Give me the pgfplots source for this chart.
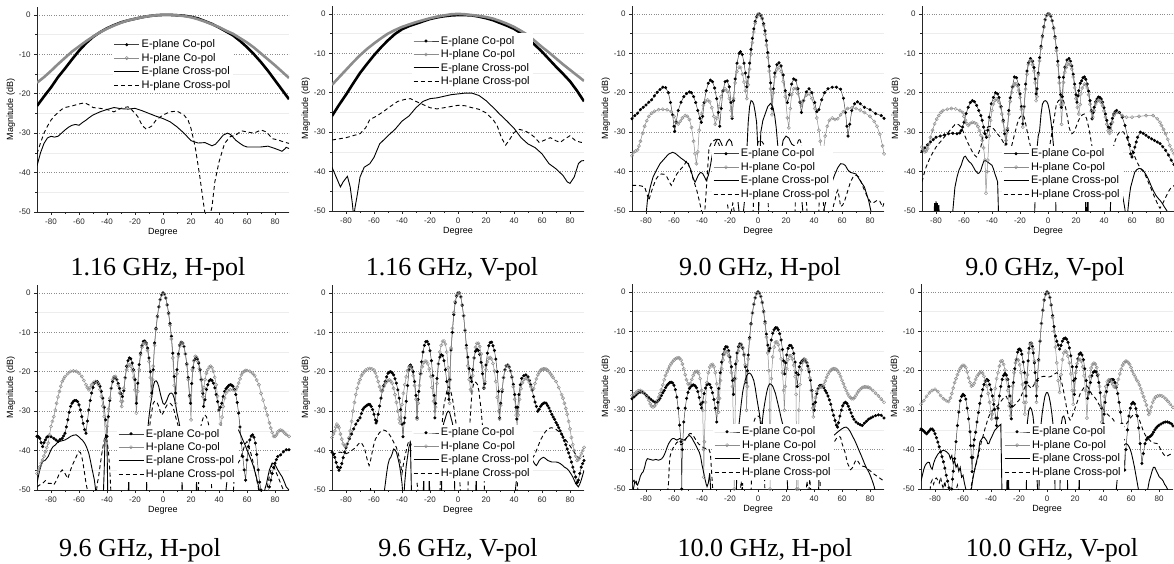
\documentclass[border=0pt]{standalone}
\usepackage{pgfplots}
\pgfplotsset{compat=1.18}
\usepackage{fontspec}
\setmainfont{Liberation Sans}
\newfontfamily\capfont{Liberation Serif}
\pgfplotsset{
  panel/.style={
    scale only axis, width=252pt, height=205pt,
    xmin=-90, xmax=90, ymin=-50, ymax=2,
    axis x line*=bottom, axis y line*=left,
    axis line style={black!85, line width=0.7pt, -},
    tick align=outside,
    xtick={-80,-60,...,80}, ytick={-50,-40,...,0},
    minor x tick num=1, minor y tick num=1,
    major tick length=3pt, minor tick length=1.8pt,
    tick style={black!85, line width=0.6pt},
    ymajorgrids, yminorgrids,
    major grid style={dotted, black!45, line width=0.5pt},
    minor grid style={black!7, line width=0.5pt},
    ticklabel style={font=\fontsize{8}{9}\selectfont, text=black!85},
    /pgf/number format/assume math mode=true,
    xlabel={Degree}, ylabel={Magnitude (dB)},
    label style={font=\fontsize{9}{10}\selectfont},
    xlabel style={yshift=3pt}, ylabel style={yshift=-3pt},
    legend cell align=left,
    legend style={draw=none, fill=white, font=\fontsize{11}{12}\selectfont, inner sep=1pt, row sep=0pt, anchor=north west},
    legend image code/.code={\draw[mark repeat=2,mark phase=2,##1] plot coordinates {(0pt,0pt) (12.5pt,0pt) (25pt,0pt)};},
  },
  ecopol/.style={black!75, line width=0.5pt, mark=*, mark size=1.3pt, mark options={solid, black}},
  hcopol/.style={black!45, line width=0.5pt, mark=o, mark size=1.6pt, mark options={solid, black!45, line width=0.45pt}},
  ecross/.style={black, line width=0.9pt, no markers, solid},
  hcross/.style={black, line width=0.9pt, no markers, dash pattern=on 4pt off 3pt},
  ecothick/.style={black, line width=2.6pt, no markers},
  hcothick/.style={black!45, line width=2.6pt, no markers},
}
\newcommand{\legs}{%
\addlegendimage{ecopol}\addlegendentry{E-plane Co-pol}
\addlegendimage{hcopol}\addlegendentry{H-plane Co-pol}
\addlegendimage{ecross}\addlegendentry{E-plane Cross-pol}
\addlegendimage{hcross}\addlegendentry{H-plane Cross-pol}}
\begin{document}
\begin{tikzpicture}[x=1pt,y=1pt]
\useasboundingbox (0,0) rectangle (1174,563);
% ---------------- P1: 1.16 GHz H-pol
\begin{axis}[panel, at={(37pt,351pt)}, anchor=south west, legend style={at={(0.30,0.855)}}]
\legs
\addplot[ecothick, forget plot] coordinates {(-90,-23.1) (-85,-20.7) (-80,-18.4) (-75,-15.8) (-70,-13.6) (-65,-11.3) (-60,-9.1) (-55,-7.2) (-50,-5.6) (-45,-4.4) (-40,-3.4) (-35,-2.6) (-30,-1.9) (-25,-1.4) (-20,-1) (-15,-0.6) (-10,-0.3) (-5,-0.1) (0,0) (5,0) (10,-0.1) (15,-0.2) (20,-0.5) (25,-0.9) (30,-1.6) (35,-2.3) (40,-3.2) (45,-4.2) (50,-5.2) (55,-6.6) (60,-8.2) (65,-10) (70,-12) (75,-14.2) (80,-16.6) (85,-19) (90,-21.4)};
\addplot[hcothick, forget plot] coordinates {(-90,-17.2) (-85,-15.8) (-80,-14.2) (-75,-12.5) (-70,-10.9) (-65,-9.3) (-60,-8) (-55,-6.7) (-50,-5.5) (-45,-4.4) (-40,-3.5) (-35,-2.7) (-30,-2) (-25,-1.4) (-20,-1) (-15,-0.6) (-10,-0.3) (-5,-0.1) (0,0) (5,0) (10,-0.1) (15,-0.3) (20,-0.6) (25,-1.1) (30,-1.7) (35,-2.4) (40,-3.1) (45,-4) (50,-4.8) (55,-5.9) (60,-7) (65,-8.3) (70,-9.8) (75,-11.3) (80,-12.8) (85,-14.4) (90,-16)};
\addplot[ecross, forget plot] coordinates {(-90,-38.3) (-87.5,-35) (-85,-32.6) (-82.5,-31.2) (-80,-30.8) (-77.5,-31) (-75,-30.8) (-72.5,-30) (-70,-29.2) (-67.5,-28.5) (-65,-28) (-62.5,-27.8) (-60,-28) (-57.5,-27.3) (-55,-26.7) (-52.5,-26) (-50,-25.4) (-45,-24.6) (-40,-24) (-35,-23.5) (-30,-23.8) (-25,-23.9) (-20,-23.7) (-15,-24.3) (-10,-25) (-5,-25.7) (0,-26.3) (5,-27.1) (10,-28.4) (15,-30) (20,-31.9) (25,-32.5) (30,-32.4) (35,-33.2) (37.5,-32.8) (40,-31.8) (43,-30.5) (46,-30) (48,-30.3) (50,-31) (52,-31.8) (55,-32.6) (57.5,-33.2) (60,-33.5) (65,-33.5) (70,-33.5) (75,-33.3) (80,-33.9) (83,-34.3) (85,-34.6) (87,-34) (88,-33.6) (90,-33.9)};
\addplot[hcross, forget plot] coordinates {(-90,-35.2) (-87.5,-32.5) (-85,-30) (-82.5,-28.2) (-80,-26.7) (-77.5,-25.6) (-75,-24.8) (-72.5,-24) (-70,-23.5) (-65,-23.1) (-60,-22.6) (-56,-22.3) (-53,-22.8) (-50,-23.5) (-45,-23.7) (-40,-24) (-35,-24.6) (-30,-23.7) (-25,-23.3) (-22,-24.2) (-18,-25.8) (-15,-28) (-12,-29) (-8,-28.2) (-5,-26.7) (0,-25.4) (5,-24.6) (10,-24.4) (15,-25.4) (18,-26.8) (20,-28.8) (23,-33.5) (26,-40.3) (29,-48) (30,-50.4) (32,-53) (35,-48.7) (37,-42.4) (40,-37.3) (44,-32.6) (48,-30.9) (52,-30.5) (56,-29.4) (60,-29.7) (65,-30) (70,-29.2) (74,-29.7) (78,-31.4) (82,-31.7) (86,-32.2) (90,-32.6)};
\end{axis}
% ---------------- P2: 1.16 GHz V-pol
\begin{axis}[panel, at={(332pt,352pt)}, anchor=south west, legend style={at={(0.317,0.868)}}]
\legs
\addplot[ecothick, forget plot] coordinates {(-90,-25.9) (-85,-23.1) (-80,-20.5) (-75,-17.7) (-70,-15) (-65,-12.7) (-60,-10.5) (-55,-8.5) (-50,-6.7) (-45,-5.1) (-40,-3.9) (-35,-3.1) (-30,-2.5) (-25,-1.9) (-20,-1.3) (-15,-0.9) (-10,-0.6) (-5,-0.4) (0,-0.3) (5,-0.3) (10,-0.4) (15,-0.7) (20,-1.1) (25,-1.6) (30,-2.3) (35,-3) (40,-3.8) (45,-4.9) (50,-6.3) (55,-7.9) (60,-9.6) (65,-11.5) (70,-13.4) (75,-15.2) (80,-17.1) (85,-19.5) (90,-22.2)};
\addplot[hcothick, forget plot] coordinates {(-90,-18) (-85,-16.1) (-80,-14.2) (-75,-12.3) (-70,-10.5) (-65,-8.9) (-60,-7.5) (-55,-6.2) (-50,-5) (-45,-4.1) (-40,-3.3) (-35,-2.7) (-30,-2.1) (-25,-1.6) (-20,-1.1) (-15,-0.7) (-10,-0.4) (-5,-0.1) (0,0) (5,-0.1) (10,-0.3) (15,-0.5) (20,-0.8) (25,-1.2) (30,-1.8) (35,-2.5) (40,-3.3) (45,-4.3) (50,-5.4) (55,-6.9) (60,-8.4) (65,-9.8) (70,-11.3) (75,-12.8) (80,-14.2) (85,-15.6) (90,-17)};
\addplot[ecross, forget plot] coordinates {(-90,-38.9) (-87,-41.4) (-84,-43.9) (-82,-42.6) (-79,-41.2) (-77,-43.9) (-75.5,-48) (-74.5,-51.5) (-73.5,-49) (-72,-46) (-70,-41.4) (-67,-38.9) (-63,-38) (-60,-36.4) (-56,-33) (-50,-30.9) (-45,-29.3) (-40,-27.2) (-35,-25.9) (-30,-23.8) (-25,-22.2) (-20,-21.5) (-15,-21.3) (-10,-20.9) (-5,-20.5) (0,-20.3) (5,-20.1) (10,-20.1) (15,-20.7) (20,-22) (25,-23.7) (30,-25.5) (35,-27.2) (40,-29) (45,-31.4) (50,-33) (55,-33.9) (60,-35.5) (65,-38) (70,-39.3) (75,-41) (78,-42.6) (80,-43) (83,-41.4) (86,-38) (88,-37.3) (90,-37.2)};
\addplot[hcross, forget plot] coordinates {(-90,-32) (-85,-31.7) (-80,-31.4) (-75,-30.9) (-70,-30.4) (-66,-28.9) (-63,-26.8) (-58,-25.9) (-53,-24.7) (-48,-23.4) (-43,-22.2) (-38,-21.7) (-34,-21.5) (-30,-22.2) (-25,-23) (-20,-23.8) (-15,-24.1) (-10,-23.8) (-5,-23.5) (0,-23.2) (5,-23.3) (10,-23.8) (15,-24.2) (20,-25.1) (25,-26.8) (28,-28.4) (31,-31.4) (34,-33.3) (37,-31.8) (40,-30.1) (44,-29.3) (48,-29.7) (52,-30.5) (55,-31.4) (58,-32.6) (62,-32) (66,-31.4) (70,-32.2) (73,-32.6) (76,-31.8) (80,-30.9) (84,-32.2) (88,-32.6) (90,-32.6)};
\end{axis}
% ---------------- P3: 9.0 GHz H-pol
\begin{axis}[panel, at={(632pt,352pt)}, anchor=south west, legend style={at={(0.317,0.318)}}]
\legs
\addplot[ecopol, forget plot] coordinates {(-90,-26.6) (-88,-25.8) (-86,-25.2) (-84,-24.3) (-82,-23.7) (-80,-23.1) (-78,-22.4) (-76,-21.8) (-74,-20.8) (-72,-19.9) (-70,-19.2) (-68,-18.6) (-66,-18.7) (-64,-20) (-62.5,-22.5) (-61,-25.6) (-60,-28.5) (-59.5,-29.8) (-58.5,-27.5) (-57,-24.5) (-55,-22.4) (-53,-21) (-51,-20.2) (-49,-19.8) (-47.5,-20) (-46,-21) (-44.5,-22.5) (-43,-24.5) (-41.5,-26.5) (-40.5,-27.5) (-39.5,-26) (-38.5,-22.5) (-37,-19.5) (-35.5,-17.6) (-34,-16.8) (-32.5,-17.2) (-31,-18.8) (-29.5,-21.5) (-28.3,-25) (-27.3,-28.5) (-26.3,-24) (-25,-19.5) (-23.5,-17.2) (-22,-17) (-20.5,-18.5) (-19.3,-22.5) (-18.5,-26.5) (-17.5,-22) (-16.3,-16.5) (-15,-12.5) (-13.5,-10) (-12.5,-9.6) (-11.2,-10.3) (-10,-12.5) (-9,-15) (-8,-18.5) (-7,-16) (-6,-12.5) (-5,-9) (-4,-6.2) (-3,-3.8) (-2,-1.9) (-1,-0.7) (0,-0.1) (1,0) (2,-0.4) (3,-1.1) (4,-2.5) (5,-4.3) (6,-6.8) (7,-9.8) (8,-13.3) (9,-17.5) (10,-24) (11,-19) (12,-15) (13.5,-12.9) (15,-12.4) (16.5,-13.2) (18,-15.5) (19.5,-19.5) (21,-22.5) (22.5,-20.5) (24,-17.8) (25.5,-16.5) (27,-16.8) (28.5,-19) (30,-22.5) (31,-25) (32.5,-22) (34.5,-19.8) (36.5,-19) (38.5,-20) (40.5,-22.5) (42,-24.8) (43.5,-24.3) (45.5,-21.8) (47.5,-20) (50,-19) (53,-18.6) (56,-18.6) (59,-19.1) (61,-21.4) (62.5,-25) (63.5,-28.5) (64.3,-31) (65.5,-28) (67,-24.5) (69,-22.8) (71,-22.3) (73,-22.8) (76,-23.7) (80,-24.3) (84,-25.3) (88,-25.8) (90,-26.5)};
\addplot[hcopol, forget plot] coordinates {(-90,-36) (-89,-35.2) (-87.5,-34.8) (-86,-34.5) (-85,-33.5) (-84,-32.3) (-82.5,-30.3) (-81,-28.5) (-79.5,-27.1) (-78,-26) (-76,-25.2) (-74,-24.7) (-71,-24.3) (-68,-24.2) (-65,-24.3) (-62,-24.8) (-60,-26) (-58.5,-27.3) (-57,-27.9) (-55.5,-27.2) (-54,-26.4) (-52,-25.8) (-50.5,-26) (-49,-26.8) (-47.5,-28.8) (-46,-32.3) (-45,-35.5) (-44,-38) (-43,-35) (-42,-29.5) (-40.5,-25.3) (-39,-23.2) (-37.5,-22.2) (-36,-21.8) (-34.5,-22.3) (-33,-23.8) (-31.5,-26) (-30.5,-28) (-29.5,-26.5) (-28,-23.5) (-26.5,-21) (-25,-19.6) (-23.5,-19) (-22,-19.6) (-20.5,-21.5) (-19.3,-24.5) (-18.7,-26) (-17.5,-21.5) (-16.3,-17.5) (-15,-14.6) (-13.5,-13.5) (-12.5,-13.6) (-11,-15.3) (-10,-17.3) (-9,-19.5) (-8,-21.5) (-7,-18) (-6,-14) (-5,-10.2) (-4,-7.3) (-3,-4.6) (-2,-2.4) (-1,-0.9) (0,-0.1) (1,0) (2,-0.5) (3,-1.3) (4,-2.9) (5,-5.2) (6,-7.9) (7,-11) (8,-14.5) (9,-19) (10,-25.6) (11,-20) (12,-16) (13.5,-14.2) (15,-13.6) (16.5,-14.6) (18,-17.2) (19.5,-21) (21,-26.4) (22,-28.9) (23,-24) (24,-20.5) (25.5,-19) (27,-18.9) (28.5,-20.2) (30,-22.3) (31,-23.2) (32.5,-22) (34.5,-20.6) (36.5,-20.3) (38.5,-21.5) (40.5,-24) (42,-26.4) (43.5,-29.5) (44.5,-32.3) (45.5,-35.5) (46,-36.8) (47,-34) (48,-31) (49.5,-28.5) (51,-27) (53,-26.4) (55,-26.8) (57,-26.6) (59,-25.6) (61,-24.8) (64,-24) (67,-23.8) (70,-24) (73,-24.4) (76,-25) (80,-26) (83,-27.3) (85,-28.5) (87,-30.5) (89,-33.5) (90,-35.5)};
\addplot[ecross, forget plot] coordinates {(-90,-60) (-81,-55) (-79,-47.3) (-77,-44) (-75,-41.4) (-72,-39.3) (-70,-38) (-67,-36.8) (-64,-35.6) (-61,-35.1) (-59,-35.4) (-57,-36) (-55,-36.6) (-53,-37.1) (-50,-38) (-48,-39.5) (-46.5,-41.5) (-45,-42.7) (-44,-42) (-42.5,-40.8) (-41,-40.2) (-39.5,-40.5) (-38,-41.5) (-37,-42.3) (-35.5,-41) (-34,-38.5) (-33,-36.4) (-32,-34.5) (-30.5,-32.8) (-29,-31.8) (-27.5,-31.9) (-26,-33) (-25,-34) (-23.5,-34) (-22,-32.5) (-20.5,-31.8) (-19,-32.4) (-17.5,-35) (-15,-45) (-12,-56) (-9,-45) (-8,-35) (-7,-27.5) (-6,-23.5) (-5,-22) (-4,-22.2) (-3,-23) (-2,-25) (-1,-27.5) (0,-35) (0.5,-50) (1,-40) (2,-30) (3.5,-27) (5,-25.5) (7,-23.5) (9,-22.7) (10.5,-23.5) (12,-26) (13,-28.9) (14,-33) (15,-36) (16.5,-35) (18,-32) (20,-31) (22,-31.5) (24,-33) (26,-33.5) (28,-36) (30,-42) (32,-50) (35,-58) (44,-58) (47,-49.8) (48.5,-47.5) (50,-45.6) (52.5,-43) (55,-40.6) (57,-39) (59,-38) (61,-38.1) (62.5,-38.5) (64,-39.5) (66,-40.2) (68,-40.4) (70,-40.6) (73,-42.3) (76,-43.9) (79,-47.3) (81,-50.6) (83,-56) (90,-60)};
\addplot[hcross, forget plot] coordinates {(-90,-43.5) (-87,-43.5) (-84,-43.6) (-81,-43.9) (-79.5,-45.5) (-78,-47.3) (-76.5,-45.5) (-75,-43.9) (-73,-42) (-71,-41) (-69,-40.6) (-67,-40.7) (-65,-41.4) (-63.5,-42.5) (-62,-43.5) (-60.5,-42.5) (-58,-40.6) (-55,-39.3) (-53,-38.5) (-51,-37.3) (-50,-37.5) (-49,-38.9) (-47.5,-40.5) (-46,-42.3) (-44,-44.4) (-42,-47.3) (-40,-50.6) (-39,-55) (-37,-45) (-35,-34) (-33,-32.5) (-30,-31.8) (-28,-33) (-26,-35) (-24,-42) (-22,-48) (-20,-52) (-18,-48) (-16,-52) (-4,-55) (-2,-36) (0,-32.5) (2,-32) (4,-33) (6,-36) (8,-55) (26,-55) (28,-33) (29.5,-31.5) (31,-33) (33,-40) (36,-55) (43,-55) (44,-44) (45,-43) (46,-46) (48,-52) (52,-52) (54,-48.5) (55,-47.3) (56,-45.5) (57,-44.7) (58,-46.5) (59,-48.9) (60.5,-48.5) (62,-47.3) (64,-45) (66,-42.7) (68,-41.3) (69,-41) (70.5,-41) (72,-41.4) (73.5,-42.5) (75,-43.9) (77,-45.5) (78,-46.4) (80,-47.5) (81,-48) (83,-47.8) (85,-47.3) (87,-47.5) (89,-49) (90,-48)};
\end{axis}
% ---------------- P4: 9.0 GHz V-pol
\begin{axis}[panel, at={(922pt,352pt)}, anchor=south west, legend style={at={(0.317,0.318)}}]
\legs
\addplot[ecopol, forget plot] coordinates {(-90,-34.8) (-88,-34) (-86,-33.2) (-84,-32.5) (-82,-31.9) (-80,-31.3) (-77,-31) (-74,-30.7) (-71,-30.4) (-68,-30.3) (-65,-30.4) (-63,-30.2) (-62,-29.6) (-61,-28.7) (-60,-27.5) (-58.5,-25.3) (-57,-23.7) (-55.5,-22.5) (-54,-22) (-52.5,-22.3) (-51,-23.2) (-49.5,-24.5) (-48,-25.8) (-47,-27) (-46,-28.7) (-45,-30.4) (-44,-31.3) (-43,-29.5) (-42,-26.2) (-40.5,-22.8) (-39,-21.2) (-37.5,-20) (-36,-20.3) (-35,-21.2) (-33.5,-23.5) (-32,-27) (-31,-30.4) (-30,-33) (-29,-29.5) (-28,-24.5) (-27,-21.3) (-25.5,-18.5) (-24,-16) (-22.5,-16.2) (-21,-18) (-20,-20.3) (-19,-23.5) (-18,-27.9) (-17,-23.5) (-16,-17.8) (-15,-14.5) (-14,-12.4) (-12.5,-11.3) (-11,-12) (-10,-13.6) (-9.2,-16.5) (-8.5,-20.3) (-7.8,-19) (-7,-15) (-6,-11.1) (-5,-8.2) (-4,-5.6) (-3,-3.2) (-2,-1.4) (-1,-0.4) (0,0) (1,-0.1) (2,-0.6) (3,-1.7) (4,-3.5) (5,-5.8) (6,-8.6) (7,-12) (8,-16.1) (9,-20.5) (9.5,-23.7) (10.2,-21) (11,-16.1) (12,-13.5) (13.5,-11.7) (15,-11.3) (16,-12) (17,-13.2) (18,-15.3) (19,-17.8) (20,-20.5) (20.7,-22.4) (21.5,-20.8) (22,-19.5) (23,-17.6) (24,-17) (25,-16.2) (26,-16) (27,-16.6) (28,-17.8) (29,-19.6) (30,-22) (31,-24.5) (31.5,-26.6) (32.3,-25) (33,-23.7) (34,-22.3) (35,-21.6) (36,-21.1) (37,-21.2) (38,-21.6) (39,-22.4) (40,-23.8) (41,-25.4) (42,-27) (43,-28.7) (44,-28.9) (45,-27.9) (46,-26.5) (47,-25.4) (48,-24.8) (49,-24.5) (51,-25) (53,-26.2) (55,-28.3) (57,-31.3) (58,-33.2) (59,-35.5) (60,-36.3) (61,-35.2) (62,-33.8) (63,-32.5) (64,-31.3) (66,-30) (68,-30.3) (70,-30.8) (72,-31.3) (74,-31.7) (76,-32.1) (78,-32.5) (80,-32.9) (82,-33.7) (84,-34.6) (86,-35.8) (88,-37.1) (90,-38.2)};
\addplot[hcopol, forget plot] coordinates {(-90,-33.8) (-89,-34.5) (-88,-35) (-87,-34.8) (-86,-34.2) (-85,-33) (-84,-31.3) (-82.5,-29.5) (-81,-27.9) (-79.5,-26.7) (-78,-25.8) (-76.5,-25) (-75,-24.5) (-72,-24.2) (-69,-24) (-66,-24.1) (-63,-24.5) (-61,-25) (-60,-26) (-59,-27) (-58,-27.8) (-57,-28.3) (-55.5,-27.8) (-54,-27.5) (-52.5,-27.6) (-51,-27.9) (-50,-28.6) (-49,-29.6) (-48,-30.8) (-47,-32.1) (-46,-34) (-45,-37.1) (-44.3,-45.5) (-43.5,-40) (-43,-37.1) (-42,-31) (-41,-27) (-40,-24.5) (-39,-22.9) (-38,-22) (-37,-21.6) (-36,-21.8) (-35,-22.4) (-34,-23.6) (-33,-25.4) (-32,-27.4) (-31,-29.6) (-30,-32.1) (-29,-29) (-28,-25.4) (-27,-22.2) (-26,-19.9) (-25,-18.5) (-24,-17.8) (-23,-17.7) (-22,-18.2) (-21,-19.4) (-20,-21.2) (-19,-24.2) (-18,-28.7) (-17,-23.5) (-16,-19.1) (-15,-15.3) (-14,-12.8) (-13,-11.9) (-12,-11.9) (-11,-12.9) (-10,-14.5) (-9.2,-17.5) (-8.5,-22) (-7.8,-21) (-7,-15.5) (-6,-11.9) (-5,-8.7) (-4,-5.9) (-3,-3.4) (-2,-1.5) (-1,-0.4) (0,0) (1,-0.1) (2,-0.6) (3,-1.8) (4,-3.7) (5,-6.2) (6,-9.3) (7,-13) (8,-17.5) (9,-23) (9.7,-28) (10.4,-23) (11,-17.4) (12,-14.8) (13,-13.6) (14,-12.8) (15,-12.4) (16,-13) (17,-14) (18,-16) (19,-18.7) (20,-21.5) (21,-23.7) (22,-25.4) (23,-23) (23.5,-20.3) (24.5,-18.8) (26,-17.8) (27,-18) (28,-18.8) (29,-20.5) (30,-22.9) (31,-24.8) (32,-26.2) (33,-24.5) (34,-22.9) (35,-22.2) (36,-21.9) (37,-22) (38,-22.5) (39,-23.3) (40,-24.6) (41,-26.2) (42,-28) (43,-29.6) (44,-30.3) (45,-29.6) (46,-27.5) (47,-25.8) (48,-25.2) (50,-25) (53,-25.8) (56,-26.2) (60,-26.2) (65,-26) (70,-25.8) (75,-25.8) (78,-26.6) (80,-27.5) (81,-28.3) (82.5,-29.3) (84,-30.4) (85.5,-31.8) (87,-33.4) (88.5,-34.5) (90,-35.5)};
\addplot[ecross, forget plot] coordinates {(-90,-60) (-82,-55) (-81,-48) (-80.5,-52) (-80,-47.5) (-79.5,-52) (-79,-48) (-78.5,-51) (-78,-48.5) (-77.5,-52) (-70,-56) (-68,-50) (-66.5,-44) (-65,-41.4) (-63.5,-39.5) (-62,-38.4) (-61,-37.2) (-60,-36.3) (-59,-36.1) (-58,-36.7) (-57,-37.2) (-56,-37.6) (-55,-37.9) (-54,-38.4) (-52,-39.7) (-50,-40.5) (-49,-40.3) (-48,-39.7) (-47,-38.5) (-46,-37.5) (-45,-37.2) (-44,-37.3) (-43,-37.6) (-41.5,-38) (-40,-38.4) (-39,-39.3) (-38,-40.5) (-37,-41.5) (-36,-42.6) (-35,-55) (-10,-55) (-8,-34.6) (-7,-31) (-6,-29.6) (-5,-25.5) (-4,-22.9) (-3,-22.2) (-2,-22) (-1,-22.2) (0,-22.9) (1,-24.5) (2,-27) (3,-30) (4,-33.8) (5,-40) (6,-55) (26.5,-55) (27,-46) (27.5,-55) (28.5,-46) (29,-55) (44,-55) (45,-45) (46,-42.6) (47.5,-42.5) (49,-42.9) (50.5,-43.5) (52,-44.7) (53.5,-46.5) (55,-49.7) (56,-55) (57,-50) (58,-46.5) (59,-44) (60.5,-42) (62,-40.1) (63.5,-39.5) (65,-39.2) (66.5,-39.3) (68,-39.7) (69.5,-40.5) (71,-41.4) (72.5,-42.6) (74,-43.9) (75.5,-45) (77,-46) (78.5,-46.7) (80,-47.3) (81.5,-48) (83,-48.9) (84.5,-49.7) (86,-50.6) (88,-55) (90,-58)};
\addplot[hcross, forget plot] coordinates {(-90,-42.6) (-88.5,-40.5) (-87,-38.8) (-85.5,-37.5) (-84,-36.3) (-82,-35) (-80,-33.8) (-78,-32.9) (-76,-32.1) (-74,-31.2) (-72,-30.4) (-70,-29.5) (-68,-28.7) (-66.5,-28.1) (-65,-27.9) (-63.5,-28.2) (-62,-28.7) (-61,-29.5) (-60,-30.4) (-58.5,-31.7) (-57,-32.9) (-55.5,-34) (-54,-35) (-52.5,-35.8) (-51,-36.3) (-49.5,-35.2) (-48,-33.8) (-47,-32) (-46,-30.4) (-44.5,-29.2) (-43,-28.7) (-41.5,-28.5) (-40,-28.7) (-38.5,-29.3) (-37,-30) (-35.5,-30.7) (-34,-31.3) (-32,-32.5) (-30,-34) (-28,-35) (-26,-33.5) (-25,-32.1) (-23.5,-30) (-22,-27.9) (-20.5,-26.4) (-19,-25.8) (-18,-25.6) (-17,-26.2) (-16,-27.8) (-15,-29.6) (-14,-31.3) (-13,-32.9) (-11,-36) (-8,-42) (-5,-45) (-2,-40) (1,-34) (3,-29.6) (4.5,-26.2) (6,-22.9) (7.5,-22) (9,-21.7) (10,-21.7) (11,-22) (12,-23) (13,-24.5) (14,-26.5) (15,-28.7) (16,-29.8) (17,-30.4) (18.5,-30) (20,-28.7) (21.5,-27.3) (23,-26.2) (24.5,-25.6) (26,-25.4) (27.5,-26.5) (29,-28.7) (30,-30.5) (31,-32.9) (33,-36) (36,-38) (40,-39) (43,-38) (45,-36.3) (46.5,-34) (48,-32.1) (49.5,-30.8) (51,-30) (52.5,-29.8) (54,-30) (55.5,-31) (57,-32.1) (58.5,-33.3) (60,-34.6) (61.5,-35.8) (63,-37.1) (64.5,-38.2) (66,-39.2) (67.5,-39.8) (69,-40.5) (70.5,-41.7) (72,-43) (73.5,-44.2) (75,-45.5) (76.5,-46.8) (78,-48) (79,-48.8) (80,-49.3) (81.5,-48.4) (83,-47.3) (84.5,-46.2) (86,-45.1) (87.5,-44.3) (89,-43.9) (90,-43.5)};
\end{axis}
% ---------------- P5: 9.6 GHz H-pol
\begin{axis}[panel, at={(37pt,73pt)}, anchor=south west, legend style={at={(0.317,0.313)}}]
\legs
\addplot[ecopol, forget plot] coordinates {(-90,-36.4) (-89,-36.5) (-88,-36.9) (-87,-38) (-86,-39) (-85,-38) (-84,-37.3) (-83,-36.6) (-82,-36.4) (-80,-36.5) (-78,-36.9) (-76.5,-37.3) (-75,-37.7) (-73.5,-37.2) (-72,-36.9) (-71,-36.3) (-70,-35.6) (-69,-34) (-68,-32.2) (-67,-30.3) (-66,-28.8) (-65,-28) (-64,-27.5) (-63,-27.3) (-62,-27.3) (-61,-27.6) (-60,-28.4) (-59,-29.7) (-58,-31.4) (-57,-33.1) (-56,-34.7) (-55,-35.6) (-54,-32.5) (-53,-29.7) (-52,-27.3) (-51,-25.4) (-50,-24) (-49,-22.9) (-48,-22.5) (-47,-22.5) (-46,-23) (-45,-23.7) (-44,-25) (-43,-26.7) (-42,-29) (-41,-32.2) (-40,-36.4) (-39,-31.4) (-38,-27.3) (-37,-24.2) (-36,-22.5) (-35,-21.6) (-34,-21.6) (-33,-22) (-32,-23) (-31,-24.2) (-30,-25.5) (-29,-26.3) (-28,-24.8) (-27,-21.5) (-26,-18.6) (-25,-17.2) (-24,-16.5) (-23,-16.7) (-22,-17.8) (-21,-19.5) (-20,-22) (-19,-28) (-18,-22.9) (-17,-18.2) (-16,-15.3) (-15,-13.4) (-14,-12.3) (-13,-12.2) (-12,-12.7) (-11,-14) (-10,-16.5) (-9,-20) (-8,-25.4) (-7,-19.5) (-6,-12.7) (-5,-9) (-4,-5.9) (-3,-3.5) (-2,-1.7) (-1,-0.5) (0,0) (1,-0.3) (2,-1.3) (3,-3) (4,-5.1) (5,-7.8) (6,-11) (7,-15.3) (8,-21.2) (9,-25.4) (10,-19.5) (11,-15.5) (12,-13.2) (13,-12.5) (14,-12.7) (15,-13.6) (16,-15.5) (17,-18) (18,-21.5) (19,-26) (19.7,-28) (20.5,-23) (21.5,-19) (22.5,-17) (23.5,-16.5) (24.5,-16.8) (25.5,-17.8) (26.5,-19.5) (27.5,-22) (28.5,-25.5) (29,-28.8) (30,-27.1) (31,-24.5) (32,-23.3) (33,-22.3) (34,-22) (35,-22.2) (36,-22.9) (37,-24.1) (38,-25.8) (39,-27.6) (40,-29.7) (41,-29) (42,-28) (43,-26.3) (44,-25) (45,-24.3) (46,-23.9) (47,-23.5) (48,-23.3) (49,-23.4) (50,-23.7) (51,-24.5) (52,-25.8) (53,-27.8) (54,-30.5) (55,-34) (56,-38.1) (57,-41.5) (58,-44.9) (59,-47.5) (60,-42.4) (61,-39) (62,-37.3) (63,-36.3) (64,-36) (65,-36.6) (66,-38.1) (67,-41) (68,-44.9) (69,-48) (70,-50) (71,-52) (72,-53) (74,-52) (76,-49.2) (77,-47.5) (78,-45.8) (79,-44.3) (80,-43.2) (81,-42.3) (82,-41.5) (84,-41.1) (86,-40.3) (88,-39.8) (90,-39.8)};
\addplot[hcopol, forget plot] coordinates {(-90,-45.8) (-89,-45) (-88,-44.1) (-87,-43.2) (-86,-42.4) (-85,-41.4) (-84,-40.3) (-83,-39.2) (-82,-38.1) (-81,-36) (-80,-33.9) (-79,-32.6) (-78,-31.4) (-77,-29.7) (-76,-28) (-75,-26.4) (-74,-25) (-73,-23.7) (-72,-22.5) (-71,-21.8) (-70,-21.2) (-68,-20.5) (-66,-19.9) (-64,-19.8) (-62,-19.9) (-60,-20.4) (-58,-21.2) (-56.5,-22.2) (-55,-23.3) (-54,-24) (-53,-24.6) (-52,-24) (-51,-23.3) (-49.5,-22.7) (-48,-22.5) (-47,-22.8) (-46,-23.3) (-45,-24.5) (-44,-26.3) (-43,-28.7) (-42,-31.4) (-41,-37.3) (-40,-33.9) (-39,-29.5) (-38,-26.7) (-37,-24.2) (-36,-22) (-35,-21.3) (-34,-21.2) (-33,-22) (-32,-23.5) (-31,-25.4) (-30,-27.5) (-29.5,-28.8) (-29,-27.5) (-28,-24.2) (-27,-21.5) (-26,-19.5) (-25,-18.6) (-24,-18.2) (-23,-18.6) (-22,-19.5) (-21,-21.5) (-20,-24.6) (-19,-30.5) (-18,-25) (-17,-19.5) (-16,-15.7) (-15,-13.8) (-14,-12.9) (-13,-12.7) (-12,-13.1) (-11,-14.6) (-10,-17.4) (-9,-21.5) (-8.5,-26.3) (-7.5,-22) (-7,-18.6) (-6,-13.3) (-5,-9.3) (-4,-6.1) (-3,-3.6) (-2,-1.7) (-1,-0.5) (0,0) (1,-0.3) (2,-1.3) (3,-3.1) (4,-5.3) (5,-8.2) (6,-11.7) (7,-16.5) (8,-23.5) (9,-28) (10,-20.5) (11,-16.1) (12,-13.5) (13,-12.7) (14,-12.8) (15,-13.6) (16,-15.5) (17,-18.2) (18,-22) (19,-26.3) (20,-32.2) (21,-19.5) (22,-17.2) (23,-16.1) (24,-16.3) (25,-17.4) (26,-19.2) (27,-22) (28,-25) (28.5,-26.3) (29.2,-24) (30,-22) (31,-20.4) (32,-19.5) (33,-18.8) (34,-18.6) (35,-19) (36,-19.9) (37,-21.4) (38,-23.3) (39,-26.2) (40,-29.7) (41,-33.2) (41.5,-33.9) (42.2,-31.5) (43,-28.8) (44,-26.7) (45,-25.4) (46.5,-24.8) (48,-24.6) (50,-24.6) (52,-24.6) (53,-23.9) (54,-22.9) (55,-21.8) (56,-20.8) (57,-20.2) (58,-19.9) (59,-19.7) (60,-19.7) (62,-19.9) (64,-20.4) (65.5,-21) (67,-22.1) (68.5,-23.3) (70,-25.5) (71.5,-27.2) (73,-29.2) (74.5,-31) (76,-33) (77,-34.3) (78,-35.4) (79,-36.4) (80,-36.4) (81,-36) (82,-35.3) (83,-34.9) (84,-34.8) (85,-34.9) (86,-35.2) (87,-35.6) (88,-35.9) (90,-36.4)};
\addplot[ecross, forget plot] coordinates {(-90,-48.3) (-89,-46.5) (-88,-44.9) (-87,-43.7) (-86,-42.8) (-84,-42.4) (-82,-41.5) (-80,-39.8) (-78.5,-39) (-77,-38.6) (-75.5,-38) (-74,-37.7) (-72,-37.5) (-70,-37.3) (-68,-36.9) (-66,-36.4) (-64,-36.1) (-62,-36) (-60.5,-36.4) (-59,-36.9) (-57.5,-37.4) (-56,-38.1) (-54.5,-39.2) (-53,-40.7) (-52,-42.3) (-51,-44.1) (-50,-45.8) (-49,-47.5) (-48,-50.4) (-47,-55) (-43,-55) (-42,-45) (-41.5,-38) (-41,-36) (-40.5,-36) (-40,-38) (-39.5,-50) (-39,-55) (-25,-55) (-24.5,-46.6) (-24,-55) (-12,-55) (-11,-35) (-10,-31.4) (-9,-28.5) (-8,-26.3) (-7,-23.8) (-6,-22.5) (-5,-22.3) (-4,-22.7) (-3,-23.8) (-2,-25.4) (-1,-26.8) (0,-28) (1,-28.3) (2,-27.8) (3,-27) (4,-26) (5,-25.5) (6,-25.4) (7,-25.7) (8,-26.7) (9,-28.3) (10,-30.5) (11,-32) (12,-33.9) (13,-38) (14,-55) (23.5,-55) (24,-46.6) (24.5,-55) (44,-55) (45,-50) (46,-46.6) (47,-44) (48,-41.5) (49,-39.7) (50,-38.1) (51,-36.6) (52,-35.4) (53,-34.7) (54,-34.8) (55,-35.6) (56,-36.4) (57,-37.3) (58.5,-38.5) (60,-39.8) (61.5,-41.1) (63,-42.4) (64.5,-43.9) (66,-45.8) (67,-47.2) (68,-48.7) (69,-50.3) (70,-51.7) (72,-51) (73,-49.5) (74,-48.3) (75,-46.5) (76,-44.9) (77,-44) (78,-43.2) (79,-43.3) (80,-43.6) (81,-44.2) (82,-44.9) (83.5,-45.8) (85,-46.6) (86.5,-47.8) (88,-49.2) (89,-49.6) (90,-50)};
\addplot[hcross, forget plot] coordinates {(-90,-49.2) (-88,-48.7) (-86,-48.3) (-84,-47.6) (-82,-48.3) (-80,-48.3) (-78,-48.7) (-76,-47.5) (-74,-45.8) (-72,-44.9) (-70,-45.8) (-68,-47.1) (-66,-44.9) (-64.5,-43.5) (-63,-42.4) (-61.5,-41.2) (-60,-40.3) (-59,-40.5) (-58,-41.5) (-57,-43.5) (-56,-45.8) (-55,-48.3) (-54,-50) (-53,-52) (-48,-52) (-47,-48.5) (-46,-46.6) (-45,-44) (-44,-41.5) (-43,-39.2) (-42,-37.3) (-41,-36.4) (-40,-37.5) (-39,-40) (-38,-45) (-37,-52) (-12,-52) (-10,-36) (-9,-32.2) (-8,-30) (-7,-28) (-6,-27.5) (-5,-27.5) (-4,-28) (-3,-28.8) (-2,-30) (-1,-31) (0,-30.5) (1,-29.7) (2,-29) (3,-28.4) (4,-28.1) (5,-28) (6,-28.3) (7,-28.8) (8,-30) (9,-31.4) (10,-32.7) (11,-33.9) (12,-36) (14,-52) (25,-52) (27,-33.9) (28,-32.5) (29,-31.4) (30,-31) (31,-31.4) (32,-32.5) (33,-34) (35,-52) (50,-52) (51,-46) (52,-44.1) (53.5,-43.2) (55,-42.4) (56.5,-40.8) (58,-39) (59,-38.2) (60,-37.7) (61,-38.5) (62,-39.8) (63,-41) (64,-42.4) (65,-44) (66,-45.8) (67,-47.5) (68,-49.2) (69,-52) (73,-52) (75,-48.3) (76,-46.5) (77,-45) (78,-43.2) (79,-43.5) (80,-44.9) (82,-46.5) (84,-48.3) (86,-50) (88,-52) (90,-52)};
\end{axis}
% ---------------- P6: 9.6 GHz V-pol
\begin{axis}[panel, at={(332pt,73pt)}, anchor=south west, legend style={at={(0.317,0.318)}}]
\legs
\addplot[ecopol, forget plot] coordinates {(-90,-40.4) (-89,-41) (-88,-41.7) (-87,-43) (-86,-44.2) (-85,-45) (-84,-44.3) (-83,-43.3) (-82,-41.8) (-81,-40.4) (-80,-39.3) (-79,-38.3) (-77.5,-37) (-76,-35.8) (-74.5,-34.5) (-73,-33.3) (-71.5,-32.4) (-70,-31.7) (-69,-30.6) (-68,-29.6) (-67,-29.1) (-66,-28.8) (-65,-28.5) (-64,-28.3) (-63,-28.3) (-62,-28.8) (-61,-29.6) (-60,-30.8) (-59,-32.2) (-58.5,-33) (-58,-32.5) (-57,-30.8) (-56,-28.7) (-55,-26.7) (-54,-24.8) (-53,-23.5) (-52,-22.5) (-51,-21.3) (-50,-20.4) (-49,-20.1) (-48,-20) (-47,-20.3) (-46,-20.8) (-45,-21.8) (-44,-22.9) (-43,-24.6) (-42,-26.7) (-41,-29.6) (-40,-33.3) (-39.3,-36.5) (-38.5,-33) (-38,-31.7) (-37,-27.5) (-36,-23.5) (-35,-19.5) (-34.5,-18.5) (-34,-18.3) (-33,-18.8) (-32,-20) (-31,-22.5) (-30,-26) (-29.3,-31.7) (-28.5,-27) (-28,-25) (-27,-20.5) (-26,-17.5) (-25,-15) (-24,-13.3) (-23,-12.4) (-22,-12.3) (-21,-13) (-20,-14.7) (-19,-17.2) (-18,-21) (-17,-26) (-16.5,-31.7) (-16,-28) (-15,-21.7) (-14,-18) (-13,-16.3) (-12,-15.7) (-11,-15.9) (-10,-17.2) (-9,-19.5) (-8,-22.5) (-7,-25.5) (-6.5,-27) (-6,-22) (-5,-14.5) (-4,-10) (-3,-5.5) (-2,-2.5) (-1,-0.8) (0,-0.1) (1,0) (2,-1) (3,-3.2) (4,-5.8) (5,-9.5) (6,-13.3) (7,-16.3) (8,-19.2) (9,-21.5) (9.7,-22.5) (10.5,-19.5) (11.5,-16.5) (12.5,-14.8) (13.5,-14.3) (14.5,-14.6) (15.5,-15.6) (16.5,-17.6) (17.5,-20.5) (18.5,-24.2) (19.2,-23) (20,-18.3) (21,-15.3) (22,-13.4) (23,-12.6) (24,-12.5) (25,-13.4) (26,-14.6) (27,-16.8) (28,-20) (29,-25) (29.7,-31.7) (30.5,-28) (31.5,-25) (32.5,-21.5) (33.5,-19.5) (34.5,-18.5) (35.5,-18.3) (36.5,-18.8) (37.5,-19.8) (38.5,-21.3) (39.5,-23.2) (40.5,-25.8) (41.5,-29) (42,-32) (42.7,-29) (43.5,-25.8) (44.5,-23.3) (45.5,-21.7) (47,-21) (48.5,-20.8) (50,-21.3) (51,-22.2) (52,-23.3) (53,-24.7) (54,-26.3) (55,-27.7) (56,-28.8) (57,-30) (58,-29.5) (59,-28.8) (60,-28.3) (61,-28) (62,-27.9) (63,-28) (64,-28.6) (65,-29.2) (66,-30) (67,-30.8) (68,-31.5) (69,-32.1) (70,-32.9) (71,-33.5) (72,-34.2) (73,-35) (74,-35.8) (75,-36.6) (76,-37.5) (77,-38.5) (78,-39.6) (79,-40.6) (80,-41.7) (81,-42.9) (82,-44.2) (83,-45.4) (84,-46.7) (84.7,-48.3) (85.5,-48) (86,-47.5) (87,-45.8) (88,-44.2) (89,-43.3) (90,-42.5)};
\addplot[hcopol, forget plot] coordinates {(-90,-36.7) (-89,-35.8) (-88,-35) (-87.3,-34) (-86.5,-33.3) (-85.5,-33.8) (-85,-34.2) (-84,-35.8) (-83,-37.1) (-82,-38.3) (-81,-38.8) (-80,-38.8) (-79,-38.3) (-78,-36.8) (-77,-35) (-76,-32.6) (-75,-30) (-74,-27.8) (-73,-25.8) (-72,-24.2) (-71,-22.9) (-70,-22) (-69,-21) (-68,-20.5) (-67,-20) (-66,-19.6) (-64.5,-19.3) (-63,-19.2) (-61.5,-19.3) (-60,-19.6) (-59,-20.3) (-58,-21.3) (-57,-22.5) (-56,-23.8) (-55,-24.7) (-54.5,-25) (-54,-24.7) (-53,-23.8) (-52,-23) (-51,-22.5) (-50,-22.2) (-49,-22.1) (-48,-22.4) (-47,-22.9) (-46,-24.2) (-45,-25.8) (-44,-27.8) (-43,-30) (-42,-32) (-41.5,-33) (-41,-31.5) (-40,-28.3) (-39,-25.5) (-38,-23.3) (-37,-21.3) (-36,-19.7) (-35,-18.8) (-34,-18.7) (-33,-19.4) (-32,-21) (-31,-23.5) (-30,-27) (-29.2,-32) (-28.5,-28) (-27.5,-23.5) (-26.5,-20.5) (-25.5,-18.7) (-24.5,-17.7) (-23.5,-17.3) (-22.5,-17.4) (-21.5,-18) (-20.5,-19.3) (-19.5,-21.2) (-18.5,-24) (-17.5,-27.5) (-16.5,-30) (-16,-29) (-15,-23) (-14,-18) (-13,-15) (-12,-13.3) (-11,-12.3) (-10,-12.2) (-9,-13) (-8,-15) (-7,-19) (-6,-28) (-5.5,-22) (-5,-14) (-4,-9) (-3,-5) (-2,-2.2) (-1,-0.6) (0,0) (1,-0.1) (2,-1) (3,-3) (4,-5.8) (5,-9.5) (6,-14) (7,-18.5) (8,-22) (9,-24.5) (9.7,-25) (10.5,-21) (11.5,-16.5) (12.5,-13.8) (13.5,-12.8) (14.5,-12.8) (15.5,-13.6) (16.5,-15.5) (17.5,-18.8) (18.5,-24) (19.2,-22.5) (20,-19.5) (21,-17.5) (22,-16.6) (23,-16.4) (24,-16.8) (25,-17.9) (26,-19.8) (27,-22.5) (28,-26.5) (29,-30) (29.7,-32) (30.5,-28.5) (31.5,-24.5) (32.5,-21.5) (33.5,-19.5) (34.5,-18.5) (35.5,-18.3) (36.5,-18.7) (37.5,-19.8) (38.5,-21.5) (39.5,-23.8) (40.5,-27) (41.5,-31) (42.2,-34) (43,-31) (44,-27) (45,-24.3) (46,-22.8) (47,-22) (48.5,-21.7) (50,-22) (51,-22.7) (52,-23.8) (53,-24.6) (54,-24.3) (55,-23) (56,-21.8) (57,-20.8) (58,-20.1) (59,-19.6) (60,-19.4) (61,-19.3) (62,-19.3) (63,-19.4) (64,-19.6) (65,-20) (66,-20.5) (67,-21) (68,-21.5) (70,-22.5) (72,-24) (74,-25.8) (75,-26.7) (76,-28) (77,-29.3) (78,-30.8) (79,-32.6) (80,-34.5) (81,-36.7) (82,-38.5) (83,-40) (84,-41.4) (85,-42.5) (86,-42.3) (87,-41.7) (88,-40.8) (89,-40) (90,-39.2)};
\addplot[ecross, forget plot] coordinates {(-90,-58) (-63,-55) (-62.5,-49.5) (-62,-55) (-53,-55) (-52.5,-50) (-51,-45.8) (-50,-43.5) (-49,-42.2) (-48,-41.7) (-47,-40.8) (-46,-39.6) (-45,-39.8) (-44,-40.4) (-43,-41.8) (-42,-43.3) (-41,-45.5) (-40,-48.3) (-39,-53) (-38,-48) (-37,-44) (-36,-41.5) (-35,-39) (-34,-38) (-33,-55) (-25,-55) (-24.5,-46) (-24,-55) (-21,-55) (-20.5,-46) (-20,-55) (-12,-55) (-11,-34.2) (-10,-32.8) (-9,-31.7) (-8,-30.5) (-7,-30) (-6,-30.3) (-5,-31.7) (-4,-33) (-3.5,-34.2) (-3,-40) (-2,-55) (12.5,-55) (13,-45) (13.5,-55) (40,-55) (41,-50) (42,-46.5) (43,-44.2) (44,-42.9) (45,-41.7) (46.5,-41) (48,-40.4) (49,-40.5) (50,-40.8) (51,-41.2) (52,-41.7) (53,-42.3) (54,-42.9) (55,-43.5) (56,-43.8) (57,-43.2) (58,-42.5) (59.5,-42) (61,-41.7) (62.5,-42) (64,-42.5) (65.5,-42.7) (67,-42.9) (68.5,-42.9) (70,-42.9) (71.5,-43) (73,-43.3) (74.5,-43.7) (76,-44.2) (77.5,-44.5) (79,-45) (80.5,-45.8) (82,-46.7) (83,-47.5) (84,-48.3) (85,-48.8) (86,-49.2) (87,-48.5) (88,-47.5) (89,-46.3) (90,-45)};
\addplot[hcross, forget plot] coordinates {(-90,-40.5) (-88,-40.8) (-86,-40.5) (-84,-40.4) (-82,-40.6) (-80,-40.8) (-78,-40.5) (-76,-40) (-74.5,-39.6) (-73,-39.2) (-71.5,-38.5) (-70,-37.9) (-68.5,-38.3) (-67,-39.2) (-66,-40.5) (-65,-42.1) (-64,-43.3) (-63.5,-43.8) (-63,-43.3) (-62,-41.7) (-61,-39.8) (-60,-38.3) (-59,-37.1) (-57.5,-36.2) (-56,-35.4) (-54.5,-35) (-53,-34.8) (-51.5,-35) (-50,-35.4) (-48.5,-36.2) (-47,-37.1) (-45.5,-38.2) (-44,-39.2) (-43,-40.4) (-42,-41.7) (-41,-43.5) (-40,-45.8) (-39,-43.5) (-38,-41.7) (-37,-40) (-36,-38.5) (-35,-37.5) (-34,-38) (-32,-40) (-28,-52) (-13,-52) (-11.5,-34) (-11,-31.7) (-10,-28.5) (-9,-26.7) (-8,-25) (-7,-24) (-6.5,-23.8) (-6,-24) (-5,-25.2) (-4,-26.7) (-3,-29) (-2,-31.7) (-1,-34) (0,-40) (2,-52) (7,-52) (8,-36) (9,-30) (10,-25) (11,-23.3) (12,-22.5) (13,-22.8) (14,-23.3) (15,-25) (15.5,-26.7) (16.5,-29.5) (17,-31.7) (18,-36) (19,-52) (42,-52) (43,-44) (44,-41.7) (45,-40.8) (46,-40.2) (47,-40) (48.5,-40.6) (50,-41.3) (51.5,-41.8) (53,-42) (54.5,-41.2) (56,-40) (57.5,-38.6) (59,-37.3) (60.5,-36.3) (62,-35.4) (63.5,-34.8) (65,-34.4) (66.5,-34.2) (68,-34.3) (69.5,-34.5) (71,-34.9) (72.5,-35.3) (74,-35.9) (75.5,-36.5) (77,-37.3) (78.5,-38) (80,-38.8) (81.5,-39.6) (83,-40.4) (84.5,-41.2) (86,-41.8) (87.5,-42.1) (89,-41.7) (90,-41.3)};
\end{axis}
% ---------------- P7: 10.0 GHz H-pol
\begin{axis}[panel, at={(632pt,74pt)}, anchor=south west, legend style={at={(0.321,0.318)}}]
\legs
\addplot[ecopol, forget plot] coordinates {(-90,-27.1) (-88.5,-26.6) (-87,-26.1) (-85.5,-25.6) (-84,-25.4) (-82.5,-25.5) (-81,-25.8) (-79.5,-26.3) (-78,-26.8) (-76.5,-27.3) (-75,-27.7) (-73.5,-28) (-72,-27.9) (-71,-27.5) (-70,-27) (-69,-26.3) (-68,-25.6) (-67,-25) (-66,-24.3) (-65,-23.7) (-64,-23.3) (-63,-23) (-62,-22.9) (-61,-23.1) (-60,-23.7) (-59,-24.8) (-58,-26.7) (-57,-29.5) (-56,-33.8) (-55,-38) (-54.5,-50) (-54,-40) (-53,-33) (-52,-29.5) (-51,-27) (-50,-25.5) (-49,-24.5) (-48,-24) (-47,-23.7) (-46,-23.6) (-45,-23.8) (-44,-24.3) (-43,-25.3) (-42,-26.8) (-41,-28.5) (-40.3,-29.5) (-39.5,-28) (-38.5,-25.8) (-37.5,-24.4) (-36.5,-23.6) (-35.5,-23.3) (-34.5,-23.5) (-33.5,-24.3) (-32.5,-25.6) (-31.5,-27.3) (-30.5,-29.5) (-29.5,-33) (-28.7,-28) (-28,-24.5) (-27,-20.5) (-26,-17.8) (-25,-15.8) (-24,-14.5) (-23,-13.9) (-22,-14) (-21,-14.9) (-20,-16.5) (-19,-19) (-18.2,-22.5) (-17.5,-26) (-16.8,-22) (-16,-18.3) (-15,-15.5) (-14,-13.9) (-13,-13.2) (-12,-13.3) (-11,-14.3) (-10,-16) (-9,-19) (-8.3,-23) (-7.6,-20) (-7,-16) (-6,-11.6) (-5,-8) (-4,-5.3) (-3,-3.1) (-2,-1.5) (-1,-0.4) (0,0) (1,-0.3) (2,-1.1) (3,-2.6) (4,-4.9) (5,-7.6) (6,-10.7) (7,-13.5) (7.8,-15) (8.5,-14.3) (9.5,-12.2) (10.5,-10.5) (11.5,-9.6) (12.5,-9.1) (13.5,-9.1) (14.5,-9.6) (15.5,-10.6) (16.5,-12.2) (17.5,-14.6) (18.3,-17.5) (19,-20.8) (19.8,-18) (20.5,-16) (21.5,-14.3) (22.5,-13.6) (23.5,-13.6) (24.5,-14.2) (25.5,-15.6) (26.5,-17.8) (27.3,-20.5) (28,-24) (28.8,-21) (29.5,-19) (30.5,-18) (31.5,-17.5) (32.5,-17.2) (33.5,-17.3) (34.5,-17.8) (35.5,-18.8) (36.5,-20.3) (37.5,-22.4) (38.5,-25) (39.5,-28.5) (40.3,-30) (41,-28) (42,-25.8) (43,-24.5) (44,-23.8) (45,-23.7) (46,-23.9) (47,-24.3) (48,-25) (49,-25.6) (50,-26.4) (51,-27.4) (52,-28.5) (53,-30) (54,-31.3) (55,-32.6) (56,-33.8) (56.8,-34.3) (57.5,-33.2) (58.5,-31.5) (59.5,-30) (60.5,-28.9) (61.5,-28.2) (62.5,-28) (63.5,-28.3) (64.5,-29) (65.5,-29.8) (66.5,-30.7) (67.5,-31.6) (68.5,-32.3) (70,-33) (71.5,-33.4) (73,-33.7) (74.5,-33.9) (76,-33.3) (77.5,-32.8) (79,-32.3) (80.5,-32) (82,-31.7) (84,-31.4) (86,-31.2) (88,-31.3) (90,-32)};
\addplot[hcopol, forget plot] coordinates {(-90,-26.3) (-88.5,-25.9) (-87,-25.5) (-85.5,-25.1) (-84,-25) (-82.5,-25.3) (-81,-25.8) (-79.5,-26.6) (-78,-27.5) (-77,-28.4) (-76,-29) (-75,-29.2) (-74,-29) (-73,-28.5) (-72,-27.6) (-71,-26.7) (-70,-25.8) (-69,-24.8) (-68,-23.6) (-67,-22.3) (-66,-21.2) (-65,-20.3) (-64,-19.5) (-63,-18.8) (-62,-18.2) (-61,-17.7) (-60,-17.3) (-59,-17) (-58,-16.8) (-57,-16.7) (-56,-16.8) (-55,-17.3) (-54,-18.3) (-53,-19.5) (-52,-21) (-51,-22.3) (-50,-23.3) (-49.2,-23.6) (-48.3,-23.2) (-47.3,-22.2) (-46.3,-21.2) (-45.3,-20.5) (-44.3,-20.2) (-43.3,-20.2) (-42.3,-20.7) (-41.3,-22) (-40.3,-25) (-39.5,-30) (-38.9,-40) (-38.7,-47) (-38.3,-38) (-37.5,-28) (-36.5,-23) (-35.5,-20.5) (-34.5,-19.1) (-33.5,-18.5) (-32.5,-18.4) (-31.5,-19) (-30.5,-20.5) (-29.5,-23.3) (-28.7,-27) (-28.2,-30.5) (-27.5,-27) (-26.8,-22.5) (-26,-19.5) (-25,-17.3) (-24,-15.8) (-23,-15.1) (-22,-15.3) (-21,-16.2) (-20,-17.8) (-19,-20.5) (-18.2,-24) (-17.5,-35) (-17,-50) (-16.5,-35) (-16,-22) (-15,-17.5) (-14,-15) (-13,-13.8) (-12,-13.5) (-11,-14.1) (-10,-15.8) (-9.2,-18.5) (-8.6,-23) (-8.2,-30) (-7.6,-24) (-7,-17) (-6,-12) (-5,-8.2) (-4,-5.4) (-3,-3.2) (-2,-1.5) (-1,-0.4) (0,0) (1,-0.3) (2,-1.2) (3,-2.8) (4,-5.1) (5,-8) (6,-11.5) (7,-15.5) (7.8,-20) (8.3,-30) (8.6,-50) (9,-35) (9.5,-22) (10.5,-16.5) (11.5,-14) (12.5,-12.8) (13.5,-12.7) (14.5,-13.4) (15.5,-14.8) (16.5,-17) (17.5,-20.5) (18.3,-25) (18.8,-30) (19.5,-24) (20.5,-19.5) (21.5,-17.2) (22.5,-16.2) (23.5,-16.2) (24.5,-17) (25.5,-18.6) (26.5,-21.5) (27.2,-26) (27.6,-50) (28,-35) (28.6,-50) (29.2,-30) (30,-23.5) (31,-19.8) (32,-17.8) (33,-17) (34,-17.2) (35,-18) (36,-19.5) (37,-21.8) (38,-25) (39,-29.5) (39.5,-31.7) (40.2,-29) (41,-26.8) (42,-25.2) (43,-24.5) (44,-24.2) (45,-24.2) (46,-24) (47,-23.5) (48,-22.6) (49,-21.7) (50,-20.9) (51,-20.3) (52,-19.9) (53,-19.6) (54,-19.5) (55,-19.5) (56,-19.7) (57,-20.1) (58,-20.7) (59,-21.5) (60,-22.4) (61,-23.3) (62,-24.2) (63,-25) (64,-25.8) (65,-26.4) (66,-26.8) (67,-27.1) (68,-27.1) (69,-26.8) (70,-26.2) (71,-25.6) (72,-25.1) (73,-24.7) (74,-24.4) (75,-24.2) (76,-24.1) (77,-24.1) (78,-24.2) (79,-24.2) (80,-24.4) (82,-25) (84,-25.7) (86,-26.4) (88,-27.2) (90,-28)};
\addplot[ecross, forget plot] coordinates {(-90,-55) (-89,-50) (-88,-48) (-87,-48.6) (-86,-49) (-85,-48) (-84,-46.7) (-83,-46) (-82,-45.6) (-81,-44.5) (-80,-43) (-79,-42.3) (-77,-42.5) (-75,-42.7) (-73,-42.5) (-71,-42.7) (-69,-42.4) (-68,-42) (-67,-41.4) (-66,-40.5) (-65,-39.5) (-64,-38.6) (-63,-38) (-62,-37.5) (-61,-37.2) (-60,-37.2) (-59,-37.4) (-58,-37.6) (-57,-37.4) (-56,-37.2) (-55,-37.3) (-54,-37.5) (-53,-37.6) (-52,-37.4) (-51,-37) (-50,-36.6) (-49,-36.4) (-48,-36.7) (-47,-37.2) (-46,-37.9) (-45,-38.5) (-44,-39.2) (-43,-39.9) (-42,-40.6) (-41,-41.8) (-40,-43.9) (-39,-45.5) (-38,-47.3) (-37,-48.8) (-36.4,-49.4) (-35.5,-48.5) (-34.5,-46) (-33,-55) (-16,-55) (-14,-36) (-13.5,-33.4) (-12,-28.4) (-11,-25.5) (-10,-23.7) (-9,-22.2) (-8,-21.2) (-7,-20.7) (-6,-20.6) (-5,-20.9) (-4,-21.6) (-3,-22.5) (-2,-24.3) (-1,-26.7) (0,-28.8) (1,-30.9) (2,-34.2) (3,-33) (4,-30) (5,-27.8) (6,-25.8) (7,-24.3) (8,-23.5) (8.5,-23.3) (9.5,-23.5) (10.5,-23.9) (11.5,-24.8) (12.5,-25.8) (13.5,-27.3) (14.5,-28.8) (15.5,-30.3) (16.5,-32) (17.5,-33.4) (19,-36) (22,-55) (43,-55) (44,-39.3) (45,-39) (46.5,-38.7) (48,-38.3) (49.5,-37.9) (51,-37.4) (52.5,-37) (54,-36.4) (55.5,-36) (57,-35.5) (58.5,-35.1) (60,-34.7) (61.5,-34.4) (63,-34.3) (64.5,-34.7) (66,-35.5) (67.5,-36.6) (69,-37.6) (70.5,-38.8) (72,-40.1) (73.5,-41.3) (75,-42.6) (76,-43.5) (77,-44.3) (78,-45) (79,-45.6) (80,-46.4) (81,-47.3) (82,-48.3) (83,-49.4) (84,-51) (85,-55) (90,-58)};
\addplot[hcross, forget plot] coordinates {(-90,-48.5) (-89,-48) (-88,-47.5) (-87,-48) (-86,-49.6) (-85,-52) (-65,-52) (-64,-49) (-63.5,-45) (-63,-42) (-62,-40.6) (-61,-39.8) (-60,-39.2) (-59,-38.7) (-58,-38.2) (-57,-38) (-56,-38.4) (-55,-38.8) (-54,-38.6) (-53,-38.1) (-52,-37.6) (-51,-37) (-50,-36.4) (-49,-36) (-48,-35.9) (-47,-36.1) (-46,-36.6) (-45,-37.2) (-44,-37.8) (-43,-38.3) (-42,-38.7) (-41,-38.9) (-40,-39.2) (-39,-39.5) (-38,-39.7) (-37,-39.7) (-36,-39.7) (-35,-40) (-34,-41) (-32,-52) (-13,-52) (-12,-48) (-11.5,-52) (-11,-48.5) (-10.5,-52) (-5,-52) (-4,-36) (-3,-33) (-2,-32) (-1,-31.6) (0,-31.5) (1,-31.7) (2,-32.2) (3,-33) (4,-36) (5,-52) (34,-52) (35,-48) (36,-52) (37,-47.5) (38,-52) (44,-52) (45,-43) (46,-41.8) (48,-40.8) (50,-40) (52,-39.3) (54,-38.3) (56,-37.2) (58,-36.7) (59,-36.9) (60,-38.4) (61,-39.5) (62,-40.5) (63,-42) (64,-43.5) (65,-44.3) (66,-45.1) (67,-44.8) (68,-44.3) (69,-43.3) (70,-42.6) (71,-42.8) (72,-43.3) (73,-43.9) (74.5,-44.2) (76,-44.3) (77.5,-44.6) (79,-45.1) (80.5,-45.5) (82,-46) (84,-46.5) (86,-47) (88,-47.5) (90,-48)};
\end{axis}
% ---------------- P8: 10.0 GHz V-pol
\begin{axis}[panel, at={(921pt,74pt)}, anchor=south west, legend style={at={(0.325,0.318)}}]
\legs
\addplot[ecopol, forget plot] coordinates {(-90,-34.8) (-89,-35) (-88,-35.3) (-87,-35.7) (-86,-36) (-85,-35.6) (-84,-35.2) (-83,-34.8) (-82,-34.8) (-81,-35.2) (-80,-36) (-79,-37) (-78,-38.1) (-77,-39.3) (-76,-40.6) (-75,-41.8) (-74,-43.1) (-73,-44.7) (-72,-46.5) (-71,-48) (-70,-49.7) (-69,-51.5) (-68,-50) (-67.5,-47.5) (-67,-45.5) (-66,-42.3) (-65,-38) (-64,-33.9) (-63,-30.5) (-62,-27.6) (-61,-26.5) (-60,-26) (-59,-26.3) (-58,-27.2) (-57,-29.5) (-56,-32.2) (-55,-35.5) (-54.5,-39) (-54,-42) (-53.5,-45.6) (-53,-42) (-52.5,-39) (-52,-37.5) (-51,-35.6) (-50,-33) (-49,-30.6) (-48,-28.3) (-47,-26.4) (-46,-24.8) (-45,-23.5) (-44,-22.7) (-43,-22.2) (-42,-22.5) (-41,-23.5) (-40,-24.8) (-39,-26.4) (-38,-28.5) (-37.5,-29.8) (-36.5,-32) (-36,-33.9) (-35.5,-32) (-35,-29.5) (-34,-26.4) (-33,-24) (-32,-22.2) (-31,-21.2) (-30,-20.7) (-29,-21.1) (-28,-22.2) (-27.2,-24) (-26.5,-26.4) (-26,-29) (-25.5,-32.2) (-25,-29) (-24,-23) (-23,-19.5) (-22,-17.2) (-21,-15.3) (-20.3,-14.6) (-19.5,-14.5) (-18.7,-14.9) (-18,-15.8) (-17,-17.8) (-16,-20.5) (-15.5,-23) (-15,-26.4) (-14.5,-23) (-13.5,-17.5) (-12.8,-14.3) (-12,-13) (-11.2,-13) (-10.5,-13.8) (-9.8,-15.5) (-9,-18) (-8.5,-20.5) (-7.5,-26.4) (-7,-22.5) (-6,-17.2) (-5,-12.5) (-4,-8) (-3,-4.7) (-2,-2.1) (-1,-0.6) (0,0) (1,-0.3) (2,-1.4) (3,-3.3) (4,-6) (5,-8.8) (6,-11.2) (7,-12.5) (8,-13.5) (9,-14.5) (10,-13.6) (11,-12.5) (12,-11.9) (13,-11.7) (14,-12) (15,-12.8) (16,-14.2) (17,-16.2) (18,-19) (19,-22.5) (19.5,-26) (20.2,-22) (21,-19) (22,-17) (23,-15.8) (24,-15.5) (25,-16) (26,-17.2) (27,-19.5) (28,-22.5) (29,-27) (30,-25.5) (31,-23) (32,-21.3) (33,-20.4) (34,-20.1) (35,-20.3) (36,-21.2) (37,-23) (38,-25.6) (39,-29.5) (40,-33.4) (40.8,-31) (41.5,-28) (42.5,-25.3) (43.5,-23.6) (44.5,-22.7) (45.5,-22.3) (46.5,-22.2) (47.5,-22.3) (48.5,-23) (49.5,-24.2) (50.5,-25.8) (51.5,-28) (52.5,-30.5) (53.5,-33.5) (54.5,-37.5) (55.5,-45.2) (56.3,-40) (57.5,-35) (58.5,-31.5) (59.5,-29.5) (60.5,-28.4) (61.5,-28) (62.5,-28.4) (63.5,-29.6) (64.5,-31.5) (65.5,-34.5) (66.5,-38.5) (67.8,-43.5) (68.8,-41) (70,-38.5) (71,-37.5) (72,-37) (73,-36.8) (74,-36.6) (75,-36.2) (76,-35.6) (77,-35) (78,-34.5) (79,-34.1) (80,-33.8) (81.5,-33.5) (83,-33.2) (84.5,-33) (86,-33) (87.5,-33.2) (89,-33.5) (90,-34)};
\addplot[hcopol, forget plot] coordinates {(-90,-28.5) (-88,-27.6) (-86,-26.5) (-84,-25.6) (-82,-25) (-80,-24.7) (-78,-25.3) (-76,-26.3) (-74,-27.1) (-72,-27.6) (-70.3,-27.8) (-69,-26.9) (-68,-25.8) (-67,-24.4) (-66,-23) (-65,-22) (-64,-21) (-63,-20.1) (-62,-19.4) (-61,-18.9) (-60,-18.6) (-59,-18.7) (-58,-19.2) (-57,-20.3) (-56,-21.8) (-55,-23) (-54,-23.9) (-53,-23.7) (-52,-23.2) (-51,-22.2) (-50,-21.4) (-49,-20.9) (-48,-20.5) (-47,-20.3) (-46,-20.6) (-45,-21.4) (-44,-22.5) (-43,-23.9) (-42,-25.8) (-41,-28) (-40,-30.5) (-39.5,-32.2) (-39,-31) (-38,-27.5) (-37,-24.5) (-36,-22) (-35,-20.5) (-34,-18.8) (-33,-17.6) (-32,-17.5) (-31,-18.4) (-30,-19.8) (-29,-22.2) (-28,-25) (-27,-28.9) (-26,-31.4) (-25.3,-28) (-24.5,-23.9) (-23.5,-20.5) (-22.5,-18) (-21.5,-17.1) (-20.5,-17.3) (-19.5,-18.5) (-18.5,-20.5) (-17.5,-23.5) (-16.5,-28) (-15.8,-31) (-15,-28) (-14,-21) (-13,-15.5) (-12,-13.3) (-11,-13.2) (-10,-14.5) (-9,-17.5) (-8,-23) (-7.5,-28) (-7,-24) (-6,-17.5) (-5,-12.5) (-4,-8) (-3,-4.6) (-2,-2) (-1,-0.5) (0,0) (1,-0.3) (2,-1.4) (3,-3.4) (4,-6.5) (5,-10) (6,-14) (7,-18) (8,-22.5) (9,-25.5) (10,-21) (11,-17.2) (12,-15.5) (13,-15) (14,-15.3) (15,-16.3) (16,-18) (17,-20.8) (18,-25) (18.7,-28.5) (19.5,-25) (20.5,-20.5) (21.5,-18.2) (22.5,-17.2) (23.5,-17.1) (24.5,-17.6) (25.5,-19) (26.5,-21.3) (27.5,-25) (28.5,-32) (29.5,-26) (30.5,-21.5) (31.5,-19.3) (32.5,-18.4) (33.5,-18.1) (34.5,-18.3) (35.5,-19.2) (36.5,-21) (37.5,-24) (38.5,-29) (39.2,-33) (40,-30) (41,-26.5) (42,-24) (43,-22.8) (44,-22.3) (45,-22.3) (46,-22.8) (47,-23.5) (48,-24.1) (49,-24.2) (50,-23.5) (51,-22.2) (52,-20.8) (53,-19.6) (54,-18.6) (55,-18) (56,-17.6) (57,-17.6) (58,-17.9) (59,-18.4) (60,-19.2) (61,-20.1) (62,-20.9) (63,-21.6) (64,-22.3) (65,-22.8) (66,-23.6) (67,-24.6) (68,-25.6) (69,-26.6) (70,-27.6) (71,-28.7) (72,-30) (72.7,-31.1) (73.5,-30.5) (74.5,-29.2) (75.5,-28) (76.5,-27.2) (77.5,-26.7) (79,-26.4) (80.5,-26.3) (82,-26.4) (83.5,-26.7) (85,-27.2) (86.5,-27.8) (88,-28.5) (90,-29.3)};
\addplot[ecross, forget plot] coordinates {(-90,-48) (-89,-46.5) (-88,-45) (-87,-44) (-86,-43.5) (-85,-43.2) (-84,-43.3) (-83,-44.5) (-82,-45) (-81,-43.5) (-80,-42.5) (-79,-41.8) (-78,-41.2) (-77,-40.8) (-76,-40.6) (-75,-40.3) (-74,-40.2) (-73,-40.3) (-72,-40.5) (-71,-40.8) (-70,-41.2) (-69,-42.3) (-68,-41.5) (-67,-43.5) (-66,-42.8) (-65,-44.5) (-64,-43.8) (-63,-45.5) (-62,-44.5) (-61,-47) (-60,-46.5) (-59,-48.5) (-58,-50) (-57,-51) (-55.5,-52) (-54,-50) (-53,-47.5) (-52,-45.6) (-51,-44) (-50,-42.5) (-49,-40.8) (-48,-38.1) (-47,-37.5) (-46,-37) (-45,-36.8) (-44,-37.3) (-43,-37.8) (-42.4,-38.5) (-41.5,-38.5) (-40.5,-37.5) (-39.5,-36.8) (-38.5,-36) (-37.5,-35.2) (-36.5,-34.8) (-35.3,-34.3) (-34,-33.9) (-33,-33.6) (-32,-55) (-29,-55) (-28.5,-46) (-28,-55) (-27.5,-46) (-27,-55) (-15,-55) (-14,-33) (-13,-30) (-12,-29.3) (-11,-29.8) (-10,-31.5) (-9,-35) (-6,-55) (-5,-36) (-4.5,-34.3) (-3.5,-31) (-2.5,-28.5) (-1.5,-26.5) (-0.5,-25.6) (0,-25.5) (0.5,-25.6) (1.5,-26.6) (2.5,-28.4) (3.5,-31) (4.5,-34.3) (5,-36) (6,-55) (9,-55) (10,-34) (11,-31.8) (12,-31.5) (13,-32.5) (14,-36) (15,-55) (22.5,-55) (23,-46) (23.5,-55) (48,-55) (49.5,-50) (50.5,-46) (51.5,-43) (52.5,-41) (53.5,-39.8) (54.5,-39.1) (55.5,-38.7) (56.5,-38.5) (57.5,-38.7) (58.5,-39.2) (59.5,-40) (60.5,-41.2) (61.5,-42.8) (62.5,-44.5) (63.5,-46.5) (64.5,-48.5) (65.5,-50.5) (66.5,-53) (71,-53) (72,-50) (73,-48) (74,-46.8) (75,-45.5) (76,-44.5) (77,-44.5) (78,-45.3) (79,-46) (80,-46.8) (81,-47.2) (82,-47.5) (83,-48) (84,-48.8) (85,-49.3) (86,-50) (87,-51) (90,-53)};
\addplot[hcross, forget plot] coordinates {(-90,-55) (-84,-52) (-83,-48.5) (-82,-47.7) (-81,-48.8) (-80,-47.5) (-79,-47.2) (-78,-47.8) (-77,-48.5) (-76,-47) (-75,-48.8) (-74,-50) (-73,-48) (-72,-50.5) (-66,-52) (-64,-49) (-62,-52) (-56,-52) (-54,-49) (-53,-47.2) (-52,-45.6) (-51,-44.2) (-50,-42.8) (-49,-41.5) (-48.5,-40.6) (-47.5,-39) (-46.5,-37.5) (-45.5,-36.3) (-45,-35.6) (-44,-34.3) (-43,-33.2) (-42.4,-32.3) (-41,-31.2) (-40,-30.6) (-38.5,-30) (-37,-29.4) (-35.3,-28.9) (-33.5,-28) (-31.7,-27.2) (-30,-26.5) (-29,-26.5) (-28,-27.5) (-26.5,-28.5) (-25,-29.3) (-23,-28.7) (-21.5,-28) (-20,-27.5) (-18.5,-26.5) (-17,-25.1) (-15.5,-24) (-14,-23.5) (-12.5,-24) (-11,-24.5) (-9.5,-23.7) (-8,-22.6) (-6.5,-22) (-5,-21.7) (-3.5,-21.5) (-2,-21.4) (-0.5,-21.5) (1,-21.6) (2.5,-21.5) (4,-21.2) (5.5,-20.8) (7,-20.5) (8.5,-21) (9.5,-21.7) (10.5,-23) (11.5,-24.5) (12.5,-26.5) (13.5,-28.4) (14.5,-30.3) (15.5,-31.8) (16.5,-32.5) (17.5,-32) (18.5,-31) (19.5,-30) (20.5,-29) (21.5,-28) (22.5,-27) (23.5,-26) (24.8,-25.1) (26,-24.5) (27,-24) (28.3,-23.8) (29.5,-24.3) (31,-25.3) (32.5,-26.3) (34.2,-26.8) (35.5,-27.5) (37,-28.5) (38.5,-29.2) (40,-29.7) (41.5,-30.3) (43,-31) (44.5,-31.5) (46,-31.8) (47.5,-32.5) (49,-33.5) (50.5,-34.3) (52,-34.6) (53.5,-34.5) (55,-34.2) (56.5,-33.6) (58,-32.8) (59.5,-32) (61,-31.4) (62.6,-31) (64,-31.2) (65.5,-32) (67,-33.5) (68.5,-35) (70,-36.2) (71.5,-37) (73,-37.5) (74.5,-38) (76,-38.3) (77.5,-38.4) (79,-38.5) (80.5,-39.5) (82,-40.5) (83.5,-41.3) (85,-41.8) (86.5,-41.5) (88,-41.2) (90,-41)};
\end{axis}
% ---------------- captions
\begin{scope}[every node/.style={anchor=base, font=\capfont\fontsize{26}{30}\selectfont, inner sep=0pt}]
\node at (158pt,288pt) {1.16 GHz, H-pol};
\node at (452pt,288pt) {1.16 GHz, V-pol};
\node at (760pt,288pt) {9.0 GHz, H-pol};
\node at (1045pt,288pt) {9.0 GHz, V-pol};
\node at (140pt,7pt) {9.6 GHz, H-pol};
\node at (458pt,7pt) {9.6 GHz, V-pol};
\node at (765pt,7pt) {10.0 GHz, H-pol};
\node at (1052pt,7pt) {10.0 GHz, V-pol};
\end{scope}
\end{tikzpicture}
\end{document}
